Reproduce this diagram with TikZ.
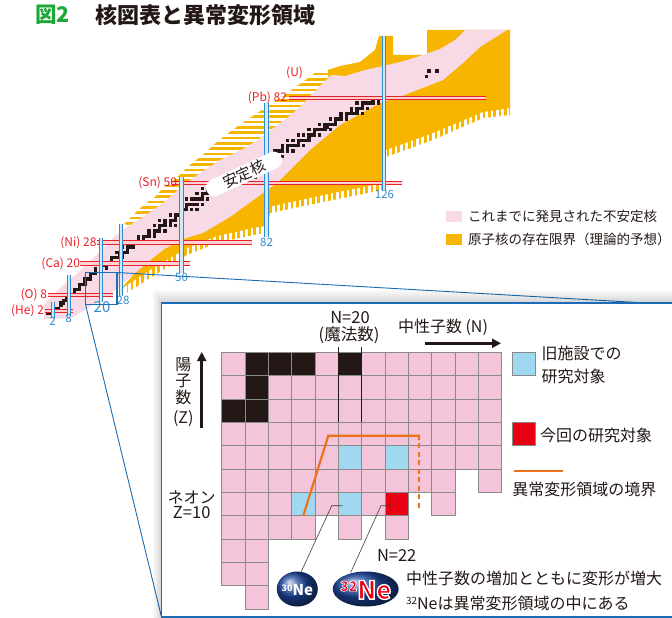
\documentclass[tikz,border=0pt]{standalone}
\usepackage{fontspec}
\newfontfamily\jp{Noto Sans CJK JP}
\usetikzlibrary{arrows.meta,shapes.geometric}
\definecolor{chartpink}{HTML}{F8DAE6}
\definecolor{chartorange}{HTML}{F7B500}
\definecolor{gridpink}{HTML}{F4C4DA}
\definecolor{oldblue}{HTML}{A0D8F1}
\definecolor{newred}{HTML}{E60012}
\definecolor{magicred}{HTML}{E8202A}
\definecolor{magicblue}{HTML}{2E8BD0}
\definecolor{boxblue}{HTML}{1A6DB4}
\definecolor{bordorange}{HTML}{EE7219}
\definecolor{titlegreen}{HTML}{1EA83C}
\definecolor{ink}{HTML}{231815}
\definecolor{cellgray}{HTML}{8A8A8A}
\newcommand{\fs}[1]{\fontsize{#1pt}{#1pt}\selectfont}
\newcommand{\zmagic}[3]{%
  \fill[magicred!20] (#2,#1-1.7) rectangle (#3,#1+1.7);
  \draw[magicred, line width=0.7pt] (#2,#1-1.7) -- (#3,#1-1.7) (#2,#1+1.7) -- (#3,#1+1.7);}
\newcommand{\nmagic}[3]{%
  \fill[magicblue!20] (#1-1.7,#2) rectangle (#1+1.7,#3);
  \draw[magicblue, line width=0.7pt] (#1-1.7,#2) -- (#1-1.7,#3) (#1+1.7,#2) -- (#1+1.7,#3);}
\newcommand{\outlinew}[1]{\special{pdf:literal direct 1 1 1 RG #1 w 2 Tr}}
\newcommand{\outlineoff}{\special{pdf:literal direct 0 Tr}}
\begin{document}
\begin{tikzpicture}[x=1pt,y=-1pt,
  every node/.style={inner sep=0pt, outer sep=0pt, font=\jp},
  redlab/.style={anchor=east, text=magicred, font=\jp\fs{12}},
  bluelab/.style={anchor=north, text=magicblue, font=\jp\fs{11.5}},
  cell/.style={draw=cellgray, line width=0.8pt},
  insettext/.style={font=\jp\fs{16}, text=ink},
  leader/.style={draw=ink!85, line width=0.6pt}]
\useasboundingbox (0,0) rectangle (672,618);

% ---------- title ----------
\node[anchor=west, text=titlegreen, font=\jp\bfseries\fs{21.5}] (fignum) at (35,15) {図2};
\node[anchor=west, text=ink, font=\jp\bfseries\fs{22}] (title) at (95,15) {核図表と異常変形領域};

% ---------- nuclear chart ----------
\fill[chartorange] (118,292) -- (127,285) -- (150,270) -- (187,248) -- (217,236) -- (253,228) -- (266,226)
  -- (268,207) -- (333,193) -- (383,183) -- (386,150) -- (433,133) -- (483,112) -- (510,108)
  -- (510,30) -- (427,30) -- (427,55) -- (393,55) -- (393,36) -- (379,36) -- (375,50) -- (360,62)
  -- (340,66) -- (328,70) -- (330,100) -- (300,140) -- (200,200) -- cycle;
\begin{scope}
  \clip (127,283) -- (150,268) -- (187,246) -- (217,234) -- (253,226) -- (266,224) -- (268,205)
    -- (333,191) -- (383,181) -- (386,148) -- (433,131) -- (483,110) -- (510,106) -- (510,115)
    -- (483,118) -- (433,140) -- (386,157) -- (383,190) -- (333,200) -- (270,213) -- (266,233)
    -- (253,235) -- (217,243) -- (187,255) -- (150,278) -- (127,293) -- cycle;
  \foreach \i in {0,...,75} { \fill[chartorange] (120+\i*5.333,100) rectangle ++(2.667,200); }
\end{scope}
\begin{scope}
  \clip (124,224) -- (135,213) -- (145,204) -- (155,197) -- (162,189) -- (175,179) -- (190,165)
    -- (205,153) -- (218,141) -- (231,131) -- (248,119) -- (265,108) -- (283,96) -- (300,84)
    -- (316,72) -- (332,69) -- (345,75) -- (300,110) -- (200,180) -- (140,228) -- cycle;
  \foreach \i in {0,...,40} { \fill[chartorange] (100,30+\i*5.333) rectangle ++(260,2.667); }
\end{scope}
\fill[chartpink] (44,319) -- (44,305) -- (50,298) -- (58,290) -- (66,283) -- (75,275) -- (85,266)
  -- (95,256) -- (105,246) -- (115,236) -- (127,227) -- (140,219) -- (163,203) -- (180,188)
  -- (200,173) -- (220,160) -- (243,149) -- (260,139) -- (272,129) -- (287,118) -- (300,107)
  -- (311,95) -- (322,84) -- (332,75)
  -- (345,76) -- (365,70) -- (383,66) -- (400,62) -- (420,56) -- (440,49) -- (455,40) -- (465,30)
  -- (507,30) -- (480,47) -- (463,63) -- (443,80) -- (402,96) -- (380,103) -- (340,125)
  -- (310,150) -- (277,183) -- (263,193) -- (230,217) -- (203,233) -- (180,240) -- (163,250)
  -- (147,263) -- (127,280) -- (115,290) -- (100,300) -- (85,310) -- (72,318) -- cycle;

% stable nuclides
\begin{scope}[shift={(47.7,316.3)}, x=2.667pt, y=2.667pt]
\foreach \z/\ns in {1/{0,1},2/{1,2},3/{3,4},4/{5},5/{5,6},6/{6,7},7/{7,8},8/{8,9,10},9/{10},
 10/{10,11,12},11/{12},12/{12,13,14},13/{14},14/{14,15,16},15/{16},16/{16,17,18,20},17/{18,20},
 18/{18,20,22},19/{20,21,22},20/{20,22,23,24,26,28},21/{24},22/{24,25,26,27,28},23/{27,28},
 24/{26,28,29,30},25/{30},26/{28,30,31,32},27/{32},28/{30,32,33,34,36},29/{34,36},
 30/{34,36,37,38,40},31/{38,40},32/{38,40,41,42,44},33/{42},34/{40,42,43,44,46,48},35/{44,46},
 36/{42,44,46,47,48,50},37/{48,50},38/{46,48,49,50},39/{50},40/{50,51,52,54,56},41/{52},
 42/{50,52,53,54,55,56,58},44/{52,54,55,56,57,58,60},45/{58},46/{56,58,59,60,62,64},47/{60,62},
 48/{58,60,62,63,64,66},49/{64,66},50/{62,64,65,66,67,68,69,70,72,74},51/{70,72},
 52/{68,70,71,72,73,74,76,78},53/{74},54/{70,72,74,75,76,77,78,80,82},55/{78},
 56/{74,76,78,79,80,81,82},57/{81,82},58/{78,80,82,84},59/{82},60/{82,83,84,85,86,88},
 62/{82,85,86,87,88,90,92},63/{88,90},64/{88,90,91,92,93,94,96},65/{94},66/{90,92,94,95,96,97,98},
 67/{98},68/{94,96,98,99,100,102},69/{100},70/{98,100,101,102,103,104,106},71/{104,105},
 72/{102,104,105,106,107,108},73/{108},74/{106,108,109,110,112},75/{110,112},
 76/{110,112,113,114,115,116,118},77/{114,116},78/{114,116,117,118,120},79/{118},
 80/{116,118,119,120,121,122,124},81/{122,124},82/{122,124,125,126},83/{126},90/{142},92/{143,146}}
 { \foreach \n in \ns { \fill[ink] (\n-0.62,\z-0.62) rectangle (\n+0.62,\z+0.62); } }
\end{scope}

% magic lines
\zmagic{311}{45}{73}
\zmagic{295}{48}{113}
\zmagic{263.3}{80}{190}
\zmagic{242.3}{97}{252}
\zmagic{183}{172}{402}
\zmagic{97.7}{289}{486}
\nmagic{53}{302}{318}
\nmagic{69}{275}{316}
\nmagic{101}{238}{302}
\nmagic{121}{224}{296}
\nmagic{181.5}{177}{273}
\nmagic{266.5}{103}{237}
\nmagic{384}{36}{190}

% magic labels
\node[redlab] (lhe) at (44,311) {(He) 2};
\node[redlab] (lo) at (47,295) {(O) 8};
\node[redlab] (lca) at (80,263.3) {(Ca) 20};
\node[redlab] (lni) at (96.5,242.3) {(Ni) 28};
\node[redlab] (lsn) at (177,183) {(Sn) 50};
\node[redlab] (lpb) at (287,97.7) {(Pb) 82};
\node[redlab] (lu) at (303,72.3) {(U)};
\node[bluelab] (n2) at (52.5,317) {2};
\node[bluelab] (n8) at (68.5,314) {8};
\node[bluelab, font=\jp\fs{15}] (n20) at (102,302) {20};
\node[bluelab] (n28) at (123,296) {28};
\node[bluelab] (n50) at (181.5,273) {50};
\node[bluelab] (n82) at (266.5,238) {82};
\node[bluelab] (n126) at (384.5,190) {126};

% stable label
\node[fill=white, rounded corners=8pt, minimum width=82pt, minimum height=17pt, rotate=25,
  font=\jp\fs{15}, text=ink] (stab) at (244,174) {安定核};

% chart legend
\fill[chartpink] (446,211) rectangle (461.7,222);
\node[anchor=west, font=\jp\fs{13.5}, text=ink] (legpink) at (468,216.7) {これまでに発見された不安定核};
\fill[chartorange] (446,234.3) rectangle (461.7,245);
\node[anchor=west, font=\jp\fs{13.5}, text=ink] (legor) at (468,239.7) {原子核の存在限界（理論的予想）};

% zoom box and projection lines
\node[draw=boxblue, line width=1.5pt, minimum width=31.5pt, minimum height=32pt] (zbox) at (101.25,288.5) {};
\coordinate (insettr) at (672,304.5);
\coordinate (insetbl) at (161.5,617);
\draw[boxblue, line width=0.9pt] (zbox.north east) -- (insettr);
\draw[boxblue, line width=0.9pt] (zbox.south west) -- (insetbl);

% ---------- inset ----------
\foreach \k in {1,...,7} {
  \fill[black, opacity=0.022] (161.5-1.2*\k,303-1.8*\k) rectangle (690,625);
}
\node[draw=boxblue, line width=1.6pt, fill=white, anchor=north west, minimum width=525pt, minimum height=314pt] (inset) at (161.5,303) {};

\begin{scope}[shift={(221.67,352.33)}, x=23.333pt, y=-23.333pt]
  \foreach \r/\cs in {0/{0,...,11},1/{0,...,11},2/{0,...,11},3/{0,...,11},4/{0,...,11},
     5/{0,...,9,11},6/{0,...,7,9},7/{0,1,2,3,5,7},8/{0,1},9/{0,1},10/{1}}
    { \foreach \c in \cs { \filldraw[cell, fill=gridpink] (\c,\r) rectangle ++(1,1); } }
  \foreach \c/\r in {1/0,2/0,3/0,5/0,1/1,0/2,1/2}
    { \filldraw[cell, fill=ink] (\c,\r) rectangle ++(1,1); }
  \foreach \c/\r in {5/4,7/4,3/6,5/6}
    { \filldraw[cell, fill=oldblue] (\c,\r) rectangle ++(1,1); }
  \filldraw[cell, fill=newred] (7,6) rectangle ++(1,1);
\end{scope}

% N=20 magic lines in inset
\draw[ink, line width=1.3pt] (338.3,346.7) -- (338.3,422.3) (361.7,346.7) -- (361.7,422.3);
\node[font=\jp\fs{16.5}, text=ink] (n20lab) at (350,318) {N=20};
\node[font=\jp\fs{16.5}, text=ink] (magic) at (349,335.5) {(魔法数)};

% abnormal deformation boundary
\draw[bordorange, line width=2.2pt, line join=miter] (303.3,515.7) -- (328.3,435.7) -- (419,435.7) -- (419,440);
\draw[bordorange, line width=2.2pt, dash pattern=on 5pt off 3.5pt] (419,443) -- (419,508);

% axes
\node[anchor=west, insettext] (naxis) at (398,327) {中性子数 (N)};
\draw[ink, line width=2.6pt, -{Triangle[length=9pt,width=9pt]}] (425,343.3) -- (501,343.3);
\draw[ink, line width=2.6pt, -{Triangle[length=9pt,width=9pt]}] (201.7,428) -- (201.7,352);
\node[insettext] (zy1) at (183.3,365) {陽};
\node[insettext] (zy2) at (183.3,381) {子};
\node[insettext] (zy3) at (183.3,397.5) {数};
\node[insettext] (zy4) at (183.3,419) {(Z)};
\node[insettext] (neon) at (191.7,497.3) {ネオン};
\node[font=\jp\fs{16.5}, text=ink] (z10) at (191.7,512.7) {Z=10};

% inset legend
\filldraw[cell, fill=oldblue] (512.3,352.3) rectangle (535,375.7);
\node[anchor=west, insettext] (leg1a) at (541.7,353.3) {旧施設での};
\node[anchor=west, insettext] (leg1b) at (541.7,376) {研究対象};
\filldraw[cell, fill=newred] (512.3,422.3) rectangle (535,445.7);
\node[anchor=west, insettext] (leg2) at (540,435.7) {今回の研究対象};
\coordinate (legl1) at (514,471);
\coordinate (legl2) at (563.3,471);
\draw[bordorange, line width=2.2pt] (legl1) -- (legl2);
\node[anchor=west, insettext] (leg3) at (512.3,489) {異常変形領域の境界};

% nuclei balls
\node[font=\jp\fs{16.5}, text=ink] (n22) at (396.7,555) {N=22};
\node[ellipse, shade, ball color={rgb,255:red,30;green,72;blue,160}, minimum width=41pt, minimum height=35pt] (e30) at (297.3,589) {};
\node[text=white, font=\jp\bfseries\fs{15}] (t30) at (297.3,590) {\raisebox{4pt}{\fs{9}30}Ne};
\node[ellipse, shade, ball color={rgb,255:red,30;green,72;blue,160}, minimum width=66pt, minimum height=35pt] (e32) at (365.7,589) {};
\node[text=newred, font=\jp\bfseries\fs{25}] (t32) at (365.7,590)
  {\outlinew{0.6}\raisebox{8pt}{\fs{14}32}\outlinew{1.3}Ne\outlineoff};
\coordinate (k30a) at (331.7,505.7);
\coordinate (k30b) at (342.7,505.7);
\coordinate (k32a) at (381,505.7);
\coordinate (k32b) at (392.3,505.7);
\draw[leader] (e30.north) ++(4,0) -- (k30a) -- (k30b);
\draw[leader] (e32.north) ++(-15,1) -- (k32a) -- (k32b);

\node[anchor=west, insettext] (desc1) at (406,578.3) {中性子数の増加とともに変形が増大};
\node[anchor=west, insettext] (desc2) at (406,603.3) {\raisebox{5pt}{\fs{10}32}Neは異常変形領域の中にある};
\end{tikzpicture}
\end{document}
